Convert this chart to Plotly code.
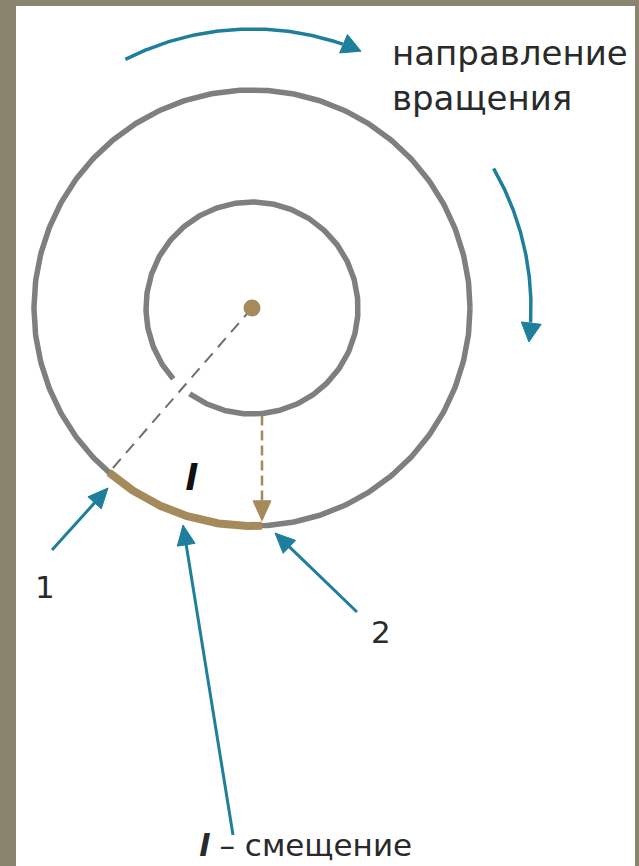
import numpy as np
import plotly.graph_objects as go

# ---- diagram data (pixel-space coordinates of the drawing, y grows downward) ----
center = [252, 308]                 # centre of the rotating disc
ring_radii = [218, 106]             # outer and inner circle radii
inner_gap_deg = [126, 138]          # gap in inner circle where the dashed radius crosses
point1_deg = 131                    # angle of point 1 on the outer circle
drop_dx = 10                        # x offset (from centre) of the vertical drop to point 2
rotation_radius = 279               # radius of the "direction of rotation" arrows
rotation_arcs_deg = [[-117, -67], [-30, 7]]
pointer_tails = [[52, 550], [233, 835], [357, 612]]
pointer_tips = [[108, 488], [183, 525], [275, 533]]
labels_text = ["1", "2"]
labels_pos = [[45, 587], [381, 632]]
caption_lines = ["направление", "вращения"]
caption_pos = [[390, 53], [390, 98]]
arc_label_pos = [191, 477]
bottom_label_pos = [305, 845]

BORDER = "#8a846e"
GRAY = "#7f7f7f"
BROWN = "#a58b5c"
BLUE = "#1e7f9d"
TEXT = "#2a2a2a"
FONT = "DejaVu Sans"

cx, cy = center
R_out, R_in = ring_radii


def arc(r, a0, a1, n=200):
    t = np.radians(np.linspace(a0, a1, n))
    return cx + r * np.cos(t), cy + r * np.sin(t)


def head(tip, direction, length=20, half=9):
    d = np.asarray(direction, float)
    d = d / np.hypot(*d)
    p = np.array([-d[1], d[0]])
    tip = np.asarray(tip, float)
    base = tip - d * length
    pts = [tip, base + p * half, base - p * half, tip]
    return [q[0] for q in pts], [q[1] for q in pts]


fig = go.Figure()

# outer circle
x, y = arc(R_out, 0, 360, 500)
fig.add_trace(go.Scatter(x=x, y=y, mode="lines", line=dict(color=GRAY, width=5.5)))
# inner circle with gap
x, y = arc(R_in, inner_gap_deg[1], inner_gap_deg[0] + 360, 400)
fig.add_trace(go.Scatter(x=x, y=y, mode="lines", line=dict(color=GRAY, width=5.5)))

# dashed radius to point 1
p1 = [cx + R_out * np.cos(np.radians(point1_deg)), cy + R_out * np.sin(np.radians(point1_deg))]
fig.add_trace(go.Scatter(x=[cx, p1[0]], y=[cy, p1[1]], mode="lines",
                         line=dict(color="#6f6f6f", width=2, dash="12px,8px")))

# displacement arc (brown)
x2 = cx + drop_dx
y_in = cy + np.sqrt(R_in ** 2 - drop_dx ** 2)
y_out = cy + np.sqrt(R_out ** 2 - drop_dx ** 2)
point2_deg = np.degrees(np.arctan2(y_out - cy, drop_dx))
x, y = arc(R_out, point1_deg, point2_deg, 150)
fig.add_trace(go.Scatter(x=x, y=y, mode="lines", line=dict(color=BROWN, width=8)))

# brown dashed drop arrow
tip_b = [x2, y_out - 5]
fig.add_trace(go.Scatter(x=[x2, x2], y=[y_in + 2, tip_b[1] - 15], mode="lines",
                         line=dict(color=BROWN, width=2.5, dash="10px,5px")))
hx, hy = head(tip_b, [0, 1], length=20, half=9)
fig.add_trace(go.Scatter(x=hx, y=hy, mode="lines", fill="toself", fillcolor=BROWN,
                         line=dict(color=BROWN, width=1)))

# centre dot
fig.add_trace(go.Scatter(x=[cx], y=[cy], mode="markers",
                         marker=dict(color=BROWN, size=17, line=dict(width=0))))

# rotation arrows
for a0, a1 in rotation_arcs_deg:
    x, y = arc(rotation_radius, a0, a1 - 4, 120)
    fig.add_trace(go.Scatter(x=x, y=y, mode="lines", line=dict(color=BLUE, width=3.5)))
    t = np.radians(a1)
    tip = [cx + rotation_radius * np.cos(t), cy + rotation_radius * np.sin(t)]
    hx, hy = head(tip, [-np.sin(t), np.cos(t)], length=19, half=10)
    fig.add_trace(go.Scatter(x=hx, y=hy, mode="lines", fill="toself", fillcolor=BLUE,
                             line=dict(color=BLUE, width=1)))

# pointer arrows
for tail, tip in zip(pointer_tails, pointer_tips):
    d = np.array(tip, float) - np.array(tail, float)
    u = d / np.hypot(*d)
    end = np.array(tip) - u * 15
    fig.add_trace(go.Scatter(x=[tail[0], end[0]], y=[tail[1], end[1]], mode="lines",
                             line=dict(color=BLUE, width=3)))
    hx, hy = head(tip, d, length=20, half=9)
    fig.add_trace(go.Scatter(x=hx, y=hy, mode="lines", fill="toself", fillcolor=BLUE,
                             line=dict(color=BLUE, width=1)))

annotations = []
for txt, (lx, ly) in zip(labels_text, labels_pos):
    annotations.append(dict(x=lx, y=ly, text=txt, showarrow=False,
                            font=dict(family=FONT, size=31, color=TEXT)))
for txt, (lx, ly) in zip(caption_lines, caption_pos):
    annotations.append(dict(x=lx, y=ly, text=txt, showarrow=False, xanchor="left",
                            font=dict(family=FONT, size=34, color=TEXT)))
annotations.append(dict(x=arc_label_pos[0], y=arc_label_pos[1], text="<i><b>l</b></i>",
                        showarrow=False, font=dict(family=FONT, size=36, color="#111111")))
annotations.append(dict(x=bottom_label_pos[0], y=bottom_label_pos[1],
                        text="<i><b>l</b></i> – смещение", showarrow=False, borderpad=0,
                        font=dict(family=FONT, size=31, color=TEXT)))

fig.update_layout(
    width=639, height=866,
    margin=dict(l=0, r=0, t=0, b=0),
    paper_bgcolor=BORDER, plot_bgcolor=BORDER,
    showlegend=False,
    xaxis=dict(range=[0, 639], visible=False, fixedrange=True),
    yaxis=dict(range=[866, 0], visible=False, fixedrange=True),
    shapes=[dict(type="rect", xref="x", yref="y", x0=16, x1=635, y0=6, y1=870,
                 fillcolor="white", line=dict(width=0), layer="below")],
    annotations=annotations,
)

fig.write_html("out.html", config={"displayModeBar": False},
               post_script="document.body.style.margin='0';document.body.style.overflow='hidden';")
